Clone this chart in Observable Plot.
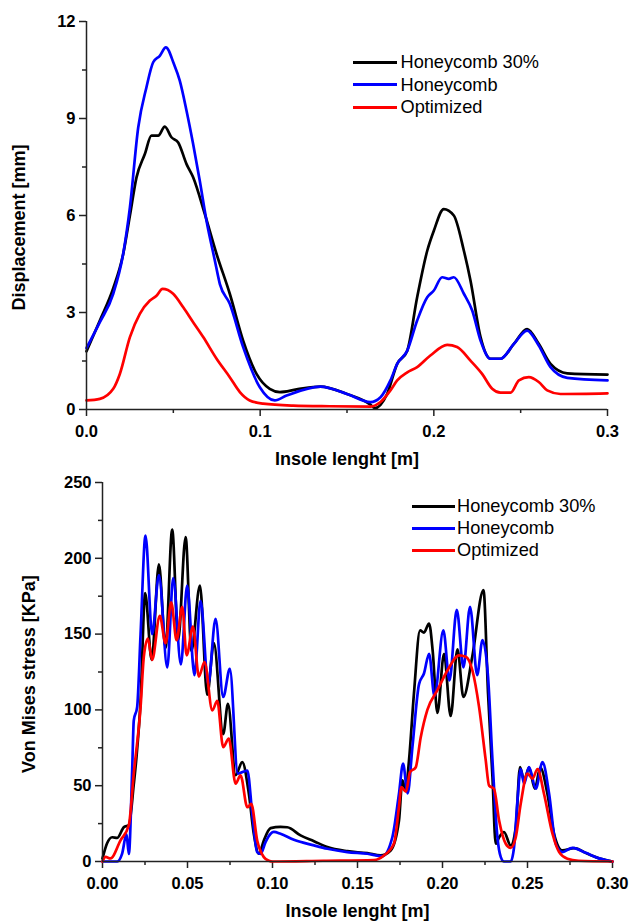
<!DOCTYPE html>
<html>
<head>
<meta charset="utf-8">
<script src="https://cdn.jsdelivr.net/npm/d3@7"></script>
<script src="https://cdn.jsdelivr.net/npm/@observablehq/plot@0.6"></script>
<style>
  html, body { margin: 0; padding: 0; background: #fff; }
  #wrap { position: relative; width: 629px; height: 922px; font-family: "Liberation Sans", Arial, sans-serif; }
  #wrap svg { display: block; }
  .legend { position: absolute; font-size: 18.2px; color: #000; font-family: "Liberation Sans", Arial, sans-serif; }
  .row { position: absolute; left: 0; height: 20px; line-height: 20px; white-space: nowrap; }
  .row span { position: absolute; }
  .row .sw { position: absolute; top: 8.5px; height: 3px; }
</style>
</head>
<body>
<div id="wrap"></div>
<script>
// ---------- DATA ----------
const seriesNames = ["Honeycomb 30%", "Honeycomb", "Optimized"];
const seriesColors = ["#000000", "#0000ff", "#ff0000"];

// Top panel: Displacement [mm] vs Insole lenght [m]
const dispHoneycomb30 = [[0,1.8],[0.0077,2.75],[0.0154,3.75],[0.0211,4.8],[0.025,6.0],[0.0288,7.18],[0.0336,7.9],[0.0374,8.47],[0.0413,8.47],[0.0451,8.75],[0.0489,8.42],[0.0528,8.26],[0.0576,7.59],[0.0614,7.18],[0.0681,6.05],[0.0749,4.81],[0.0825,3.58],[0.0902,2.13],[0.0979,1.10],[0.1055,0.64],[0.1113,0.54],[0.121,0.62],[0.1347,0.71],[0.150,0.48],[0.1635,0.15],[0.166,0.04],[0.1731,0.48],[0.1789,1.41],[0.1847,1.82],[0.1904,3.47],[0.1962,4.91],[0.2,5.53],[0.2057,6.2],[0.2115,6.0],[0.2173,4.91],[0.2211,3.99],[0.2269,2.24],[0.2326,1.57],[0.2384,1.57],[0.2461,2.03],[0.2537,2.49],[0.2604,2.03],[0.2672,1.41],[0.2768,1.12],[0.30,1.08]];
const dispHoneycomb = [[0,1.9],[0.0077,2.7],[0.0154,3.58],[0.0211,4.81],[0.025,6.25],[0.0298,8.73],[0.0345,9.96],[0.0384,10.74],[0.0422,10.94],[0.0457,11.2],[0.0503,10.69],[0.0537,10.17],[0.0576,9.24],[0.0614,8.21],[0.0652,7.08],[0.0691,5.84],[0.0739,4.61],[0.0768,3.88],[0.0825,3.27],[0.0902,1.93],[0.0998,0.69],[0.1084,0.28],[0.1152,0.43],[0.1347,0.71],[0.150,0.48],[0.1635,0.23],[0.1693,0.38],[0.175,0.90],[0.1789,1.41],[0.1847,1.82],[0.1904,2.75],[0.1962,3.47],[0.2,3.68],[0.2048,4.09],[0.2086,4.04],[0.2115,4.09],[0.2173,3.58],[0.2221,3.06],[0.2269,2.13],[0.2326,1.57],[0.2384,1.57],[0.2461,2.03],[0.2537,2.44],[0.2604,1.98],[0.2672,1.31],[0.2768,0.98],[0.30,0.90]];
const dispOptimized = [[0,0.28],[0.0077,0.33],[0.0154,0.64],[0.0192,1.10],[0.025,2.24],[0.0307,2.96],[0.0365,3.37],[0.0403,3.52],[0.0438,3.73],[0.0499,3.58],[0.0557,3.16],[0.0614,2.70],[0.0672,2.24],[0.0749,1.57],[0.0825,1.00],[0.0883,0.54],[0.094,0.28],[0.1017,0.18],[0.119,0.12],[0.14,0.1],[0.1635,0.09],[0.1693,0.23],[0.175,0.59],[0.1789,0.90],[0.1847,1.15],[0.1904,1.31],[0.198,1.67],[0.2077,2.0],[0.2134,1.93],[0.2211,1.51],[0.2278,1.10],[0.2336,0.64],[0.2384,0.52],[0.2442,0.52],[0.249,0.90],[0.2547,1.00],[0.2604,0.85],[0.2653,0.59],[0.2729,0.48],[0.30,0.50]];

// Bottom panel: Von Mises stress [KPa] vs Insole lenght [m]
const stressHoneycomb30 = [[0,2],[0.0027,12],[0.0057,16],[0.0087,15.6],[0.0126,22.7],[0.0155,24],[0.0184,51],[0.02,69],[0.0224,106],[0.0251,177],[0.0289,133],[0.0332,196],[0.0371,141],[0.041,219],[0.0445,146],[0.0489,214],[0.0523,139],[0.0573,182],[0.0616,110],[0.0655,144],[0.071,84],[0.0738,104],[0.0783,57],[0.0822,65.6],[0.0861,44.7],[0.089,18.3],[0.092,5.1],[0.0949,13.9],[0.0989,22],[0.1047,22.8],[0.1087,22.6],[0.1165,17.2],[0.1244,13.4],[0.1323,9.5],[0.144,6.8],[0.1558,5.5],[0.1636,4],[0.1695,7.3],[0.1744,27],[0.1764,53.5],[0.1783,47],[0.1803,66.7],[0.1832,110.7],[0.1868,152.5],[0.1891,151],[0.1921,157],[0.1943,138],[0.197,98],[0.2009,137],[0.2048,96],[0.2088,140],[0.2123,108.5],[0.2175,135],[0.2241,179],[0.2268,110.7],[0.2294,55.7],[0.2313,11.7],[0.2333,16],[0.2362,19.4],[0.2401,10.6],[0.2431,22.7],[0.2456,62.3],[0.248,53.5],[0.2509,62],[0.2543,48],[0.2575,62],[0.2617,44.7],[0.2656,18.3],[0.2706,7.3],[0.2774,8.8],[0.2853,5.1],[0.2931,1.8],[0.3,0]];
const stressHoneycomb = [[0,0],[0.0087,0],[0.0115,5],[0.0141,18],[0.0155,5],[0.0175,62],[0.0184,93],[0.0204,102],[0.0224,150],[0.0253,215],[0.0292,150],[0.0332,189],[0.0381,128],[0.0416,187],[0.0461,130],[0.0498,182],[0.0541,123],[0.0577,172],[0.0622,117],[0.0665,160],[0.071,108.5],[0.0749,127],[0.0796,58],[0.0852,60],[0.0881,31.5],[0.091,6.2],[0.093,5],[0.0959,12.8],[0.0989,18.3],[0.1008,19.5],[0.1047,18.3],[0.1126,14.3],[0.1244,10.6],[0.1323,8.4],[0.144,6.2],[0.1558,5.1],[0.1646,3.5],[0.1705,16],[0.1744,44.7],[0.1768,64.5],[0.1795,45],[0.1823,75.5],[0.1862,117],[0.1891,124],[0.1921,137],[0.1953,109],[0.2005,152.5],[0.2041,119.5],[0.2084,166],[0.2123,128],[0.2162,168],[0.2204,123],[0.2235,146],[0.2268,121.7],[0.2294,66.7],[0.2323,16],[0.2343,2.9],[0.2362,0],[0.2401,0],[0.2421,9.5],[0.2441,40.3],[0.246,61],[0.248,51.3],[0.2509,62.3],[0.2549,48],[0.2588,65.6],[0.2627,44.7],[0.2666,11.7],[0.2706,6.2],[0.2764,9],[0.2843,5.7],[0.2912,2.4],[0.3,0]];
const stressOptimized = [[0,0],[0.0018,3],[0.0047,2],[0.0106,14],[0.0155,24],[0.0184,58],[0.0224,102],[0.0243,135],[0.0267,147],[0.0292,133],[0.0337,162],[0.0371,144],[0.0404,171],[0.0436,146],[0.0469,168],[0.0495,136],[0.0532,155],[0.0567,122],[0.06,131.6],[0.0646,99.7],[0.0675,106],[0.071,75.5],[0.0743,81],[0.0783,51.3],[0.0812,56.8],[0.0852,35.8],[0.0875,38],[0.091,13.9],[0.0949,2.9],[0.0979,0.5],[0.1,0],[0.13,0.5],[0.1597,1],[0.1656,4],[0.1715,12],[0.1744,36],[0.1758,49],[0.1785,46],[0.1809,59],[0.1842,62],[0.1872,82],[0.1911,100],[0.197,113],[0.2029,126],[0.2097,136],[0.2137,135],[0.2176,126],[0.2215,102],[0.2254,67],[0.2274,50],[0.2303,48],[0.2333,27],[0.2372,11.7],[0.2401,9],[0.2431,16],[0.246,38],[0.25,58],[0.2529,54.6],[0.2559,61],[0.2597,44.7],[0.2647,18.3],[0.2686,6.2],[0.2735,1.8],[0.28,0.5],[0.3,0]];

// Tick labels
const topXTicks = [0, 0.1, 0.2, 0.3];
const topXMinor = [0.05, 0.15, 0.25];
const topYTicks = [0, 3, 6, 9, 12];
const topYMinor = [1.5, 4.5, 7.5, 10.5];
const botXTicks = [0, 0.05, 0.10, 0.15, 0.20, 0.25, 0.30];
const botXMinor = [0.025, 0.075, 0.125, 0.175, 0.225, 0.275];
const botYTicks = [0, 50, 100, 150, 200, 250];
const botYMinor = [25, 75, 125, 175, 225];

const xLabel = "Insole lenght [m]";
const topYLabel = "Displacement [mm]";
const botYLabel = "Von Mises stress [KPa]";

// ---------- DRAW ----------
const FONT = '"Liberation Sans", Arial, sans-serif';
const svgStyle = {fontFamily: FONT, fontSize: "16.5px", fontWeight: "bold", color: "#000", background: "#fff", overflow: "visible"};
const LW = 2.7;

function panel({width, height, mL, mR, mT, mB, xDomain, yDomain, xT, xM, yT, yM, xFmt, yLab, yDx, yDy, series}) {
  return Plot.plot({
    width, height,
    marginLeft: mL, marginRight: mR, marginTop: mT, marginBottom: mB,
    x: {domain: xDomain},
    y: {domain: yDomain},
    style: svgStyle,
    marks: [
      Plot.axisY({ticks: yT, tickSize: 7, tickPadding: 4, tickFormat: d => String(d), label: null, strokeWidth: 1.5, stroke: "#222"}),
      Plot.axisY({ticks: yM, tickSize: 4, tickFormat: () => "", label: null, strokeWidth: 1.5, stroke: "#222"}),
      Plot.axisX({ticks: xT, tickSize: 7, tickPadding: 9, tickFormat: xFmt, label: null, strokeWidth: 1.5, stroke: "#222"}),
      Plot.axisX({ticks: xM, tickSize: 4, tickFormat: () => "", label: null, strokeWidth: 1.5, stroke: "#222"}),
      ...series.map((s, i) => Plot.line(s, {x: d => d[0], y: d => d[1], stroke: seriesColors[i], strokeWidth: LW, curve: "monotone-x"})),
      Plot.ruleX([xDomain[0]], {stroke: "#222", strokeWidth: 1.5}),
      Plot.ruleY([yDomain[0]], {stroke: "#222", strokeWidth: 1.5}),
      Plot.text([xLabel], {text: d => d, frameAnchor: "bottom", textAnchor: "middle", dy: 55, fontSize: 18, fontWeight: "bold", fill: "#000"}),
      Plot.text([yLab], {text: d => d, frameAnchor: "left", textAnchor: "middle", rotate: -90, dx: yDx, dy: yDy, fontSize: 18, fontWeight: "bold", fill: "#000"})
    ]
  });
}

const wrap = document.getElementById("wrap");

const p1 = panel({
  width: 629, height: 470, mL: 86, mR: 22, mT: 21, mB: 61,
  xDomain: [0, 0.3], yDomain: [0, 12],
  xT: topXTicks, xM: topXMinor, yT: topYTicks, yM: topYMinor,
  xFmt: d3.format(".1f"), yLab: topYLabel, yDx: -67, yDy: 12,
  series: [dispHoneycomb30, dispHoneycomb, dispOptimized]
});
const p2 = panel({
  width: 629, height: 452, mL: 102, mR: 17, mT: 12, mB: 61,
  xDomain: [0, 0.3], yDomain: [0, 250],
  xT: botXTicks, xM: botXMinor, yT: botYTicks, yM: botYMinor,
  xFmt: d3.format(".2f"), yLab: botYLabel, yDx: -73, yDy: 2,
  series: [stressHoneycomb30, stressHoneycomb, stressOptimized]
});
wrap.appendChild(p1);
wrap.appendChild(p2);

function legend(top, lineLeft, lineW, textLeft, rowGap) {
  const lg = document.createElement("div");
  lg.className = "legend";
  lg.style.left = "0px";
  lg.style.top = "0px";
  seriesNames.forEach((name, i) => {
    const row = document.createElement("div");
    row.className = "row";
    row.style.top = (top + i * rowGap - 10) + "px";
    const sw = document.createElement("div");
    sw.className = "sw";
    sw.style.left = lineLeft + "px";
    sw.style.width = lineW + "px";
    sw.style.background = seriesColors[i];
    const t = document.createElement("span");
    t.style.left = textLeft + "px";
    t.textContent = name;
    row.appendChild(sw);
    row.appendChild(t);
    lg.appendChild(row);
  });
  wrap.appendChild(lg);
}
legend(62, 353, 44, 400.5, 22.5);
legend(506, 411.5, 43, 457, 22.2);
</script>
</body>
</html>
